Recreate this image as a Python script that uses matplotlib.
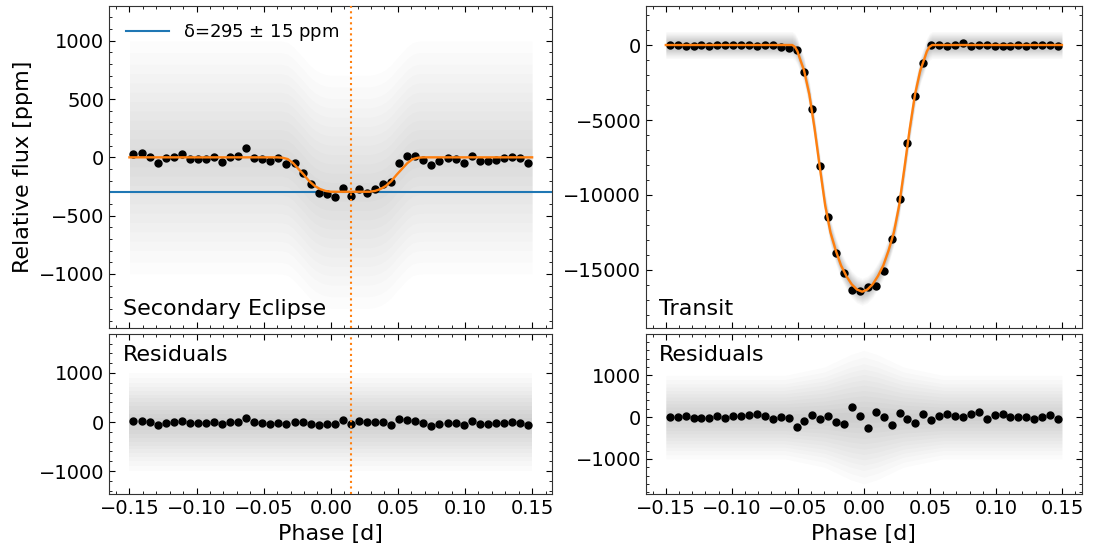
import numpy as np
import matplotlib
matplotlib.use("Agg")
import matplotlib.pyplot as plt
from matplotlib.ticker import MultipleLocator, AutoMinorLocator

# ------------------------------------------------------------
# data
# ------------------------------------------------------------

# bin centres [d] (50 bins, 0.006 d wide, same for both panels)
bin_phase = np.linspace(-0.147, 0.147, 50)

# secondary eclipse, binned flux [ppm]
ecl_bin = [26, 34, 6, -46, -9, 6, 26, -14, -11, -17,
           0, -37, 0, 9, 80, -3, -17, -29, -9, -57,
           -51, -131, -229, -303, -317, -337, -266, -334, -269, -303,
           -274, -229, -211, -46, 9, 14, -26, -63, -31, -9,
           -17, -51, 11, -29, -29, -23, -9, 3, -6, -46]

# secondary eclipse residuals, binned [ppm]
ecl_res_bin = [14, 27, -7, -54, -20, 0, 20, -20, -20, -20,
               -7, -41, -7, 0, 74, -7, -27, -41, -20, -47,
               0, -7, -34, -54, -34, -47, 34, -41, 20, -7,
               -7, -7, -68, 54, 34, 14, -27, -81, -41, -14,
               -27, -68, 14, -34, -34, -27, -14, -7, -14, -54]

# transit, binned flux [ppm]
tr_bin = [0, 0, -60, -40, 0, -40, 0, 0, 0, 0,
          0, -60, 0, 0, -155, -222, -333, -1778, -4267, -8067,
          -11444, -13889, -15178, -16333, -16378, -16111, -16044, -15044, -12933, -10267,
          -6556, -3378, -1178, 0, 0, -60, 0, 111, -40, 0,
          0, -80, -40, -40, 0, -60, 0, 0, 0, -60]

# transit residuals, binned [ppm]
tr_res_bin = [-8, -8, 32, -24, -16, -24, 24, -24, 16, 24,
              40, 64, 16, -56, 0, -24, -248, -96, 56, -48,
              24, -120, -160, 248, 24, -256, 128, -8, -184, 96,
              -40, -144, 64, -80, 24, 80, 24, 0, 80, 112,
              -48, 56, 64, 0, 0, 8, -56, 8, 40, -40]

# eclipse model curve
ecl_model_phase = [-0.15, -0.040, -0.036, -0.032, -0.028, -0.024, -0.020, -0.016,
                   -0.012, -0.008, -0.004, 0.000, 0.029, 0.033, 0.037, 0.041,
                   0.045, 0.049, 0.053, 0.057, 0.061, 0.065, 0.069, 0.15]
ecl_model_flux = [0, 0, -3, -15, -50, -100, -150, -205,
                  -245, -272, -288, -295, -295, -288, -272, -245,
                  -205, -150, -100, -50, -15, -3, 0, 0]

# transit model curve
tr_model_phase = [-0.15, -0.0543, -0.0523, -0.0503, -0.0483, -0.0453, -0.0413, -0.0373,
                  -0.0333, -0.0293, -0.0253, -0.0213, -0.0173, -0.0133, -0.0093, -0.0053,
                  -0.0013, 0.0027, 0.0067, 0.0107, 0.0147, 0.0187, 0.0227, 0.0267,
                  0.0307, 0.0347, 0.0387, 0.0427, 0.0457, 0.0477, 0.0497, 0.0517, 0.15]
tr_model_flux = [0, 0, -120, -420, -950, -1700, -3300, -5600,
                 -8200, -10700, -12500, -13700, -14700, -15400, -15950, -16300,
                 -16450, -16300, -15950, -15400, -14700, -13700, -12500, -10700,
                 -8200, -5600, -3300, -1700, -950, -420, -120, 0, 0]

# spread of the unbinned points (half widths of the grey cloud) [ppm]
cloud_widths = [80, 160, 240, 320, 400, 480, 560, 640, 720, 800, 900, 1000]
tr_res_env_phase = [-0.15, -0.06, -0.03, -0.01, 0.0, 0.01, 0.03, 0.06, 0.15]
tr_res_env_scale = [1.0, 1.0, 1.2, 1.5, 1.6, 1.5, 1.2, 1.0, 1.0]

t0_ecl = 0.015
depth = 295
depth_err = 15

# ------------------------------------------------------------
# figure
# ------------------------------------------------------------

plt.rcParams["font.size"] = 14
plt.rcParams["xtick.direction"] = "in"
plt.rcParams["ytick.direction"] = "in"
plt.rcParams["xtick.top"] = True
plt.rcParams["ytick.right"] = True

fig = plt.figure(figsize=(10.94, 5.46), dpi=100)
ax_ecl = fig.add_axes([0.0999, 0.3987, 0.4049, 0.5908])
ax_ecl_res = fig.add_axes([0.0999, 0.0947, 0.4049, 0.2936])
ax_tr = fig.add_axes([0.5905, 0.3987, 0.3983, 0.5908])
ax_tr_res = fig.add_axes([0.5905, 0.0947, 0.3983, 0.2936])


def draw_cloud(ax, x, y, scale, alpha):
    x = np.asarray(x)
    y = np.asarray(y)
    scale = np.asarray(scale)
    for w in cloud_widths:
        ax.fill_between(x, y - w * scale, y + w * scale, color="black",
                        alpha=alpha, lw=0, zorder=1)


# secondary eclipse
draw_cloud(ax_ecl, ecl_model_phase, ecl_model_flux, 1.0, 0.011)
ax_ecl.axhline(-depth, color="C0", lw=1.5, zorder=2,
               label="δ=%d $\\pm$ %d ppm" % (depth, depth_err))
ax_ecl.plot(bin_phase, ecl_bin, "o", color="black", ms=5, zorder=3)
ax_ecl.plot(ecl_model_phase, ecl_model_flux, color="C1", lw=1.7, zorder=4)
ax_ecl.axvline(t0_ecl, color="C1", ls=":", lw=1.5, zorder=4)
ax_ecl.set_ylim(-1466, 1300)
ax_ecl.yaxis.set_major_locator(MultipleLocator(500))
ax_ecl.set_ylabel("Relative flux [ppm]", fontsize=16)
ax_ecl.text(0.03, 0.04, "Secondary Eclipse", transform=ax_ecl.transAxes, fontsize=16)
ax_ecl.legend(loc="upper left", frameon=False, fontsize=13, handlelength=2.4)

draw_cloud(ax_ecl_res, [-0.15, 0.15], [0, 0], 1.0, 0.017)
ax_ecl_res.plot(bin_phase, ecl_res_bin, "o", color="black", ms=5, zorder=3)
ax_ecl_res.axvline(t0_ecl, color="C1", ls=":", lw=1.5, zorder=4)
ax_ecl_res.set_ylim(-1475, 1796)
ax_ecl_res.yaxis.set_major_locator(MultipleLocator(1000))
ax_ecl_res.text(0.03, 0.93, "Residuals", transform=ax_ecl_res.transAxes,
                fontsize=16, va="top")
ax_ecl_res.set_xlabel("Phase [d]", fontsize=16)

# transit
draw_cloud(ax_tr, tr_model_phase, tr_model_flux, 0.9, 0.025)
ax_tr.plot(bin_phase, tr_bin, "o", color="black", ms=5, zorder=3)
ax_tr.plot(tr_model_phase, tr_model_flux, color="C1", lw=1.7, zorder=4)
ax_tr.set_ylim(-18890, 2620)
ax_tr.yaxis.set_major_locator(MultipleLocator(5000))
ax_tr.text(0.03, 0.04, "Transit", transform=ax_tr.transAxes, fontsize=16)

draw_cloud(ax_tr_res, tr_res_env_phase, np.zeros(len(tr_res_env_phase)),
           tr_res_env_scale, 0.017)
ax_tr_res.plot(bin_phase, tr_res_bin, "o", color="black", ms=5, zorder=3)
ax_tr_res.set_ylim(-1847, 1990)
ax_tr_res.yaxis.set_major_locator(MultipleLocator(1000))
ax_tr_res.text(0.03, 0.93, "Residuals", transform=ax_tr_res.transAxes,
               fontsize=16, va="top")
ax_tr_res.set_xlabel("Phase [d]", fontsize=16)

for ax in [ax_ecl, ax_ecl_res, ax_tr, ax_tr_res]:
    ax.set_xlim(-0.165, 0.165)
    ax.xaxis.set_major_locator(MultipleLocator(0.05))
    ax.xaxis.set_minor_locator(AutoMinorLocator())
    ax.yaxis.set_minor_locator(AutoMinorLocator())
    ax.tick_params(which="both", direction="in", top=True, right=True)
    ax.tick_params(which="major", length=4)
    ax.tick_params(which="minor", length=2)
    for s in ax.spines.values():
        s.set_color("#333333")

ax_ecl.tick_params(labelbottom=False)
ax_tr.tick_params(labelbottom=False)

plt.savefig("out.png", dpi=100)
